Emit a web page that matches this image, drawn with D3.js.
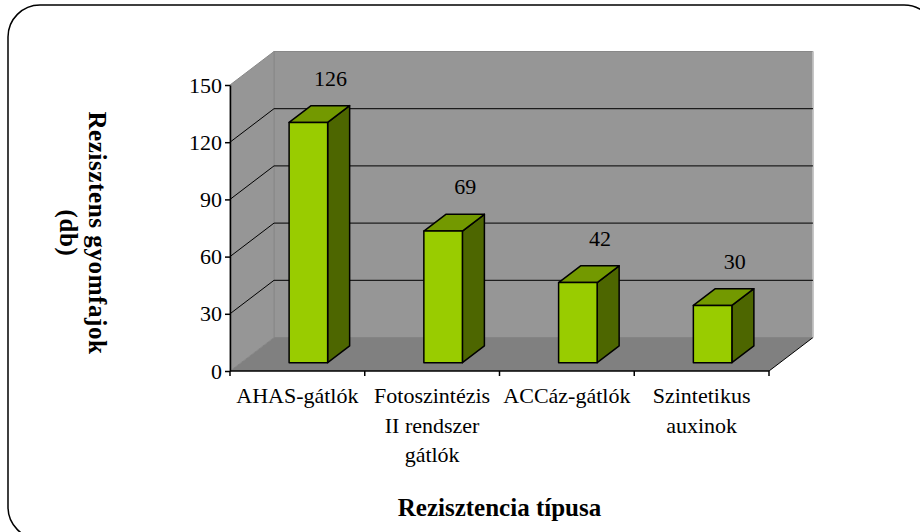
<!DOCTYPE html>
<html>
<head>
<meta charset="utf-8">
<script src="https://d3js.org/d3.v7.min.js"></script>
<style>
  body { margin: 0; background: #fff; }
</style>
</head>
<body>
<div id="chart"></div>
<script>
// rezisztens gyomfajok száma hatásmód szerint
const categories = [
    ['AHAS-gátlók'],
    ['Fotoszintézis', 'II rendszer', 'gátlók'],
    ['ACCáz-gátlók'],
    ['Szintetikus', 'auxinok']
];
const values = [126, 69, 42, 30];
const yTicks = [0, 30, 60, 90, 120, 150];
const yTitle = ['Rezisztens gyomfajok', '(db)'];
const xTitle = 'Rezisztencia típusa';

const W = 920, H = 532;
const plotL = 230, plotR = 769, plotT = 85, plotB = 371;
const depth = { dx: 44, dy: -33.5 };   // 3D mélység eltolás
const FONT = '"Liberation Serif", "Times New Roman", "DejaVu Serif", serif';

const svg = d3.select('#chart').append('svg')
    .attr('width', W)
    .attr('height', H)
    .attr('font-family', FONT)
    .style('display', 'block');

// keret
svg.append('rect')
    .attr('x', 8).attr('y', 5)
    .attr('width', 928).attr('height', 534)
    .attr('rx', 32).attr('ry', 32)
    .attr('fill', '#fff')
    .attr('stroke', '#000')
    .attr('stroke-width', 1.5);

const x = d3.scaleBand()
    .domain(d3.range(categories.length))
    .range([plotL, plotR]);

const y = d3.scaleLinear()
    .domain([0, 150])
    .range([plotB, plotT]);

const pt = (px, py) => px + ',' + py;

// hátfal
svg.append('polygon')
    .attr('points', [pt(plotL + depth.dx, y(150) + depth.dy), pt(plotR + depth.dx, y(150) + depth.dy),
                     pt(plotR + depth.dx, y(0) + depth.dy), pt(plotL + depth.dx, y(0) + depth.dy)].join(' '))
    .attr('fill', '#969696')
    .attr('stroke', '#888')
    .attr('stroke-width', 1);

// oldalfal
svg.append('polygon')
    .attr('points', [pt(plotL, y(150)), pt(plotL + depth.dx, y(150) + depth.dy),
                     pt(plotL + depth.dx, y(0) + depth.dy), pt(plotL, y(0))].join(' '))
    .attr('fill', '#969696')
    .attr('stroke', '#888')
    .attr('stroke-width', 1);

// padló
svg.append('polygon')
    .attr('points', [pt(plotL, y(0)), pt(plotR, y(0)),
                     pt(plotR + depth.dx, y(0) + depth.dy), pt(plotL + depth.dx, y(0) + depth.dy)].join(' '))
    .attr('fill', '#808080');

svg.append('line')
    .attr('x1', plotR).attr('y1', y(0))
    .attr('x2', plotR + depth.dx).attr('y2', y(0) + depth.dy)
    .attr('stroke', '#000').attr('stroke-width', 1);

svg.append('line')
    .attr('x1', plotR + depth.dx).attr('y1', y(150) + depth.dy)
    .attr('x2', plotR + depth.dx).attr('y2', y(0) + depth.dy)
    .attr('stroke', '#c8c8c8').attr('stroke-width', 1.5);

// rácsvonalak
const gridVals = yTicks.filter(v => v > 0 && v < 150);
svg.selectAll('.grid-back')
    .data(gridVals)
    .join('line')
    .attr('class', 'grid-back')
    .attr('x1', plotL + depth.dx).attr('x2', plotR + depth.dx)
    .attr('y1', d => y(d) + depth.dy).attr('y2', d => y(d) + depth.dy)
    .attr('stroke', '#000').attr('stroke-width', 1);

svg.selectAll('.grid-side')
    .data(gridVals)
    .join('line')
    .attr('class', 'grid-side')
    .attr('x1', plotL).attr('y1', d => y(d))
    .attr('x2', plotL + depth.dx).attr('y2', d => y(d) + depth.dy)
    .attr('stroke', '#000').attr('stroke-width', 1);

// oszlopok
const bw = x.bandwidth() * 0.286;
const bd = { dx: depth.dx * 0.5, dy: depth.dy * 0.5 };
const off = { dx: depth.dx * 0.25, dy: depth.dy * 0.25 };

const bars = svg.selectAll('.bar')
    .data(values)
    .join('g')
    .attr('class', 'bar')
    .attr('stroke', '#000')
    .attr('stroke-width', 1.5)
    .attr('stroke-linejoin', 'round');

function barGeom(d, i) {
    const x0 = x(i) + (x.bandwidth() - bw) / 2 + off.dx;
    const yb = y(0) + off.dy;
    const yt = y(d) + off.dy;
    return { x0, x1: x0 + bw, yb, yt };
}

bars.append('polygon')   // oldal
    .attr('fill', '#4d6600')
    .attr('points', (d, i) => {
        const g = barGeom(d, i);
        return [pt(g.x1, g.yt), pt(g.x1 + bd.dx, g.yt + bd.dy), pt(g.x1 + bd.dx, g.yb + bd.dy), pt(g.x1, g.yb)].join(' ');
    });

bars.append('polygon')   // teteje
    .attr('fill', '#739900')
    .attr('points', (d, i) => {
        const g = barGeom(d, i);
        return [pt(g.x0, g.yt), pt(g.x0 + bd.dx, g.yt + bd.dy), pt(g.x1 + bd.dx, g.yt + bd.dy), pt(g.x1, g.yt)].join(' ');
    });

bars.append('rect')      // eleje
    .attr('fill', '#99cc00')
    .attr('x', (d, i) => barGeom(d, i).x0)
    .attr('y', (d, i) => barGeom(d, i).yt)
    .attr('width', bw)
    .attr('height', (d, i) => { const g = barGeom(d, i); return g.yb - g.yt; });

// értékcímkék
svg.selectAll('.val')
    .data(values)
    .join('text')
    .attr('class', 'val')
    .attr('x', (d, i) => barGeom(d, i).x0 + bw / 2 + bd.dx)
    .attr('y', (d, i) => barGeom(d, i).yt + bd.dy - 20)
    .attr('text-anchor', 'middle')
    .attr('font-family', FONT)
    .attr('font-size', '22px')
    .attr('fill', '#000')
    .text(d => d);

// tengelyek
const yAxis = svg.append('g')
    .attr('transform', `translate(${plotL},0)`)
    .call(d3.axisLeft(y).tickValues(yTicks).tickSize(5).tickPadding(3).tickSizeOuter(0));
yAxis.attr('font-family', FONT);
yAxis.select('.domain').attr('stroke', '#000').attr('stroke-width', 1.5);
yAxis.selectAll('.tick line').attr('stroke', '#000').attr('stroke-width', 1.5);
yAxis.selectAll('.tick text')
    .attr('font-family', FONT)
    .attr('font-size', '22px')
    .attr('fill', '#000');

const xTickPos = d3.range(categories.length + 1).map(i => plotL + i * x.bandwidth());
svg.append('line')
    .attr('x1', plotL).attr('x2', plotR)
    .attr('y1', y(0)).attr('y2', y(0))
    .attr('stroke', '#000').attr('stroke-width', 1.5);
svg.selectAll('.xtick')
    .data(xTickPos)
    .join('line')
    .attr('class', 'xtick')
    .attr('x1', d => d).attr('x2', d => d)
    .attr('y1', y(0)).attr('y2', y(0) + 5)
    .attr('stroke', '#000').attr('stroke-width', 1.5);

const catLabels = svg.selectAll('.cat')
    .data(categories)
    .join('text')
    .attr('class', 'cat')
    .attr('text-anchor', 'middle')
    .attr('font-family', FONT)
    .attr('font-size', '22px')
    .attr('fill', '#000');

catLabels.selectAll('tspan')
    .data((d, i) => d.map(s => ({ s, i })))
    .join('tspan')
    .attr('x', d => x(d.i) + x.bandwidth() / 2)
    .attr('y', (d, j) => 403 + j * 29.5)
    .text(d => d.s);

// tengelycímek
svg.append('text')
    .attr('x', (plotL + plotR) / 2)
    .attr('y', 516)
    .attr('text-anchor', 'middle')
    .attr('font-family', FONT)
    .attr('font-size', '25px')
    .attr('font-weight', 'bold')
    .text(xTitle);

const yt = svg.append('text')
    .attr('transform', 'translate(89,233) rotate(90)')
    .attr('text-anchor', 'middle')
    .attr('font-family', FONT)
    .attr('font-size', '25px')
    .attr('font-weight', 'bold')
    .attr('letter-spacing', '0.6px');
yt.selectAll('tspan')
    .data(yTitle)
    .join('tspan')
    .attr('x', 0)
    .attr('y', (d, i) => i * 29)
    .text(d => d);
</script>
</body>
</html>
